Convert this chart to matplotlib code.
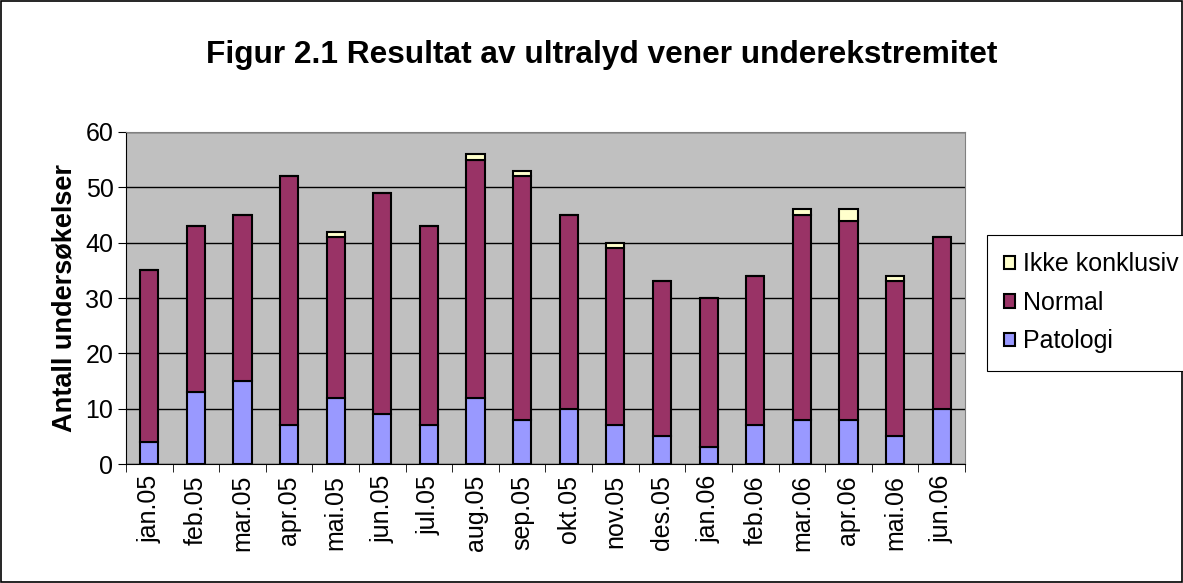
import numpy as np
import matplotlib.pyplot as plt
from matplotlib.patches import Rectangle

# Monthly counts
months = ['jan.05', 'feb.05', 'mar.05', 'apr.05', 'mai.05', 'jun.05', 'jul.05', 'aug.05', 'sep.05',
          'okt.05', 'nov.05', 'des.05', 'jan.06', 'feb.06', 'mar.06', 'apr.06', 'mai.06', 'jun.06']
patologi = [4, 13, 15, 7, 12, 9, 7, 12, 8, 10, 7, 5, 3, 7, 8, 8, 5, 10]
normal = [31, 30, 30, 45, 29, 40, 36, 43, 44, 35, 32, 28, 27, 27, 37, 36, 28, 31]
ikke_konklusiv = [0, 0, 0, 0, 1, 0, 0, 1, 1, 0, 1, 0, 0, 0, 1, 2, 1, 0]

plt.rcParams['font.family'] = ['Liberation Sans', 'DejaVu Sans']

fig = plt.figure(figsize=(11.83, 5.83), dpi=100)
ax = fig.add_axes([0.1065, 0.2041, 0.7092, 0.5695])
ax.set_facecolor('#C0C0C0')

x = np.arange(len(months))
pat = np.array(patologi)
nor = np.array(normal)
w = 0.39
b1 = ax.bar(x, pat, w, color='#9999FF', edgecolor='black', linewidth=1.5, label='Patologi', zorder=3)
b2 = ax.bar(x, nor, w, bottom=pat, color='#993366', edgecolor='black', linewidth=1.5, label='Normal', zorder=3)
b3 = ax.bar(x, ikke_konklusiv, w, bottom=pat + nor, color='#FFFFCC', edgecolor='black', linewidth=1.5,
            label='Ikke konklusiv', zorder=3)

ax.set_xlim(-0.5, len(months) - 0.5)
ax.set_ylim(0, 60)
ax.set_yticks(range(0, 61, 10))
ax.yaxis.grid(True, color='black', linewidth=1, zorder=0)
ax.set_axisbelow(True)

ax.set_xticks(x)
ax.set_xticklabels(months, rotation=90, fontsize=18)
ax.tick_params(axis='x', which='major', length=0, pad=8)
ax.set_xticks(np.arange(-0.5, len(months), 1), minor=True)
ax.tick_params(axis='x', which='minor', length=6, direction='out', color='black')
ax.tick_params(axis='y', labelsize=18, length=6, direction='out', pad=3)

for s in ['top', 'right']:
    ax.spines[s].set_color('#808080')
for s in ['left', 'bottom']:
    ax.spines[s].set_color('black')

ax.set_ylabel('Antall undersøkelser', fontsize=19.5, fontweight='bold', labelpad=6)
fig.text(0.5085, 0.905, 'Figur 2.1 Resultat av ultralyd vener underekstremitet',
         ha='center', va='center', fontsize=22.8, fontweight='bold')

# legend frame runs past the right edge, as in the original
leg = fig.legend([b3, b2, b1], ['Ikke konklusiv', 'Normal', 'Patologi'],
                 loc='upper left', bbox_to_anchor=(0.834, 0.597), fontsize=18,
                 fancybox=False, edgecolor='black', framealpha=1,
                 handlelength=0.44, handleheight=0.44, handletextpad=0.33,
                 labelspacing=0.58, borderpad=0.7, borderaxespad=0)
leg.get_frame().set_linewidth(0.8)

fig.patches.append(Rectangle((0.001, 0.001), 0.998, 0.997, transform=fig.transFigure,
                             fill=False, edgecolor='black', linewidth=1.2))

fig.savefig('out.png', dpi=100)
